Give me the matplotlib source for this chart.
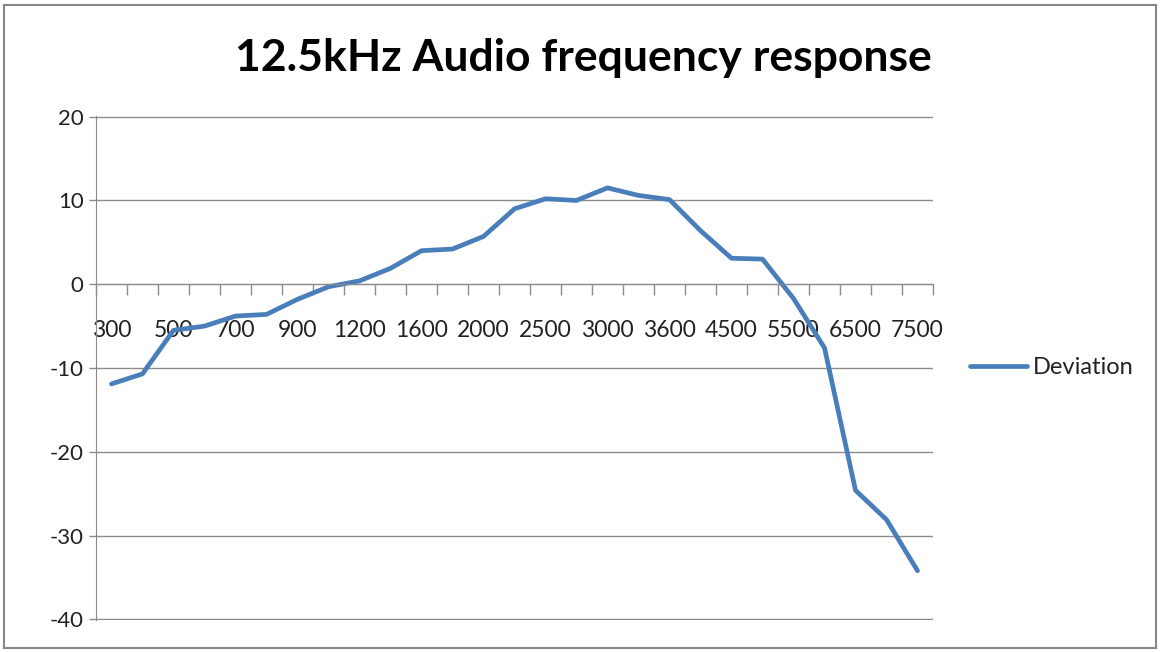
import numpy as np
import matplotlib.pyplot as plt
from matplotlib.patches import Rectangle

# category axis (Hz) and measured deviation (dB)
freqs = [300, 400, 500, 600, 700, 800, 900, 1000, 1200, 1400, 1600, 1800, 2000,
         2200, 2500, 2800, 3000, 3300, 3600, 4000, 4500, 5000, 5500, 6000,
         6500, 7000, 7500]
deviation = [-11.9, -10.7, -5.5, -5.0, -3.8, -3.6, -1.8, -0.3, 0.4, 1.9, 4.0,
             4.2, 5.7, 9.0, 10.2, 10.0, 11.5, 10.6, 10.1, 6.4, 3.1, 3.0, -1.7,
             -7.6, -24.6, -28.1, -34.2]
y_ticks = [20, 10, 0, -10, -20, -30, -40]

plt.rcParams['font.family'] = ['Lato', 'DejaVu Sans']

fig = plt.figure(figsize=(11.6, 6.52), dpi=100)
ax = fig.add_axes([96 / 1160, 1 - 620 / 652, (933 - 96) / 1160, (620 - 116) / 652])

x = np.arange(len(freqs))
ax.plot(x, deviation, color='#4a7ebb', lw=3.4, solid_joinstyle='round',
        solid_capstyle='round', label='Deviation', clip_on=False)

ax.set_xlim(-0.5, len(freqs) - 0.5)
ax.set_ylim(-40.08, 20.08)
ax.set_yticks(y_ticks)
ax.set_yticklabels([str(v) for v in y_ticks])
ax.grid(axis='y', color='#8c8c8c', lw=1)
ax.set_axisbelow(True)

# labels every other category, ticks between categories
ax.set_xticks(x[::2])
ax.set_xticklabels([str(f) for f in freqs[::2]])
ax.set_xticks(np.arange(-0.5, len(freqs)), minor=True)
ax.tick_params(axis='x', which='major', length=0, pad=26, labelsize=16.5, colors='#222222')
ax.tick_params(axis='x', which='minor', length=8, width=1, color='#8c8c8c', direction='out')
ax.tick_params(axis='y', length=5, width=1, color='#8c8c8c', pad=4, labelsize=16,
               labelcolor='#222222')

ax.spines['bottom'].set_position(('data', 0))
ax.spines['bottom'].set_color('#8c8c8c')
ax.spines['left'].set_color('#8c8c8c')
ax.spines['top'].set_visible(False)
ax.spines['right'].set_visible(False)

fig.text(583 / 1160, 1 - 58 / 652, '12.5kHz Audio frequency response',
         ha='center', va='center', fontsize=32, fontweight='bold')

ax.legend(loc='center left', bbox_to_anchor=(970 / 1160, 1 - 368 / 652),
          bbox_transform=fig.transFigure, frameon=False, fontsize=17,
          handlelength=2.4, handletextpad=0.25, borderpad=0, borderaxespad=0,
          labelcolor='#222222')

fig.patches.append(Rectangle((4 / 1160, 4 / 652), 1152 / 1160, 643 / 652,
                             transform=fig.transFigure, fill=False,
                             edgecolor='#868686', lw=1.5))

fig.savefig('out.png', dpi=100)
